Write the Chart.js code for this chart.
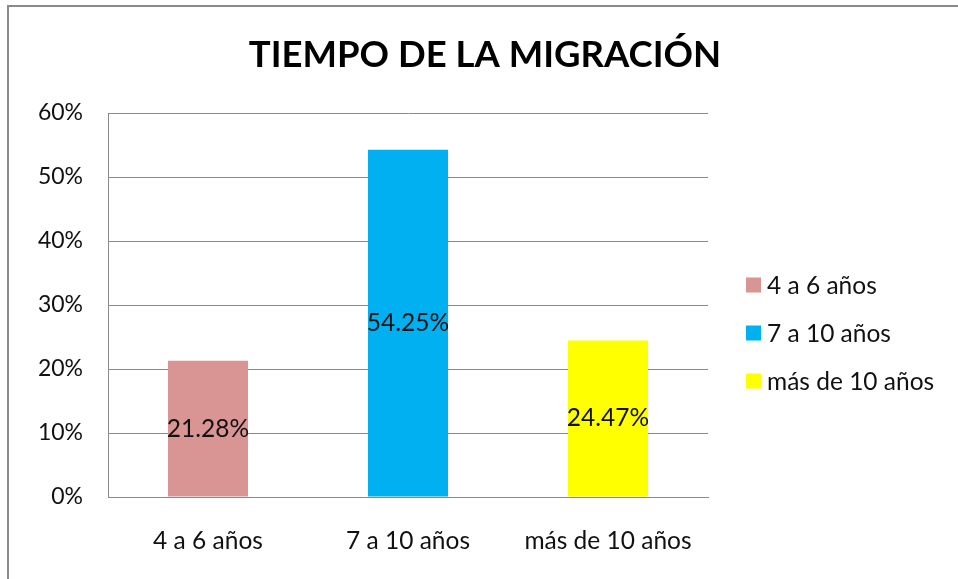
<!DOCTYPE html>
<html><head><meta charset="utf-8">
<script src="https://cdn.jsdelivr.net/npm/chart.js@4"></script>
<style>html,body{margin:0;padding:0;background:#fff;overflow:hidden}#wrap{width:958px;height:579px;position:relative}canvas{display:block}</style>
</head><body><div id="wrap"><canvas id="c" width="958" height="579" style="width:958px;height:579px"></canvas></div>
<script>
const chartTitle = 'TIEMPO DE LA MIGRACIÓN';
const categories = ['4 a 6 años', '7 a 10 años', 'más de 10 años'];
const values = [21.28, 54.25, 24.47];
const valueLabels = ['21.28%', '54.25%', '24.47%'];
const colors = ['#D99594', '#00B0F0', '#FFFF00'];
const yMax = 60;
const yStep = 10;

const FONT = 'Lato, "Open Sans", sans-serif';
const GRID = '#8a8a8a';

const deco = {
  id: 'deco',
  beforeDraw(chart) {
    const c = chart.ctx;
    c.save();
    c.fillStyle = '#fff';
    c.fillRect(0, 0, chart.width, chart.height);
    c.fillStyle = GRID;
    c.fillRect(7, 5, chart.width, 2);
    c.fillRect(7, 5, 2, chart.height);
    c.restore();
  },
  afterDatasetsDraw(chart) {
    const c = chart.ctx;
    const meta = chart.getDatasetMeta(0);
    c.save();
    c.font = '24.5px ' + FONT;
    c.fillStyle = '#111';
    c.textAlign = 'center';
    c.textBaseline = 'middle';
    meta.data.forEach((bar, i) => {
      c.fillText(valueLabels[i], bar.x, (bar.y + bar.base) / 2);
    });
    c.restore();
  },
  afterDraw(chart) {
    const c = chart.ctx;
    c.save();
    c.fillStyle = '#000';
    c.font = 'bold 36.5px ' + FONT;
    c.textAlign = 'center';
    c.textBaseline = 'middle';
    c.fillText(chartTitle, 485, 55);
    c.font = '24.5px ' + FONT;
    c.textAlign = 'left';
    categories.forEach((lab, i) => {
      const cy = 285 + i * 48;
      c.fillStyle = colors[i];
      c.fillRect(746, cy - 7.5, 15, 15);
      c.fillStyle = '#111';
      c.fillText(lab, 767, cy + 1);
    });
    c.restore();
  }
};

new Chart(document.getElementById('c'), {
  type: 'bar',
  data: {
    labels: categories,
    datasets: [{
      data: values,
      backgroundColor: colors,
      borderWidth: 0,
      barPercentage: 0.4,
      categoryPercentage: 1
    }]
  },
  options: {
    responsive: false,
    animation: false,
    devicePixelRatio: 1,
    layout: { padding: { top: 113, right: 250, bottom: 0, left: 0 } },
    plugins: { legend: { display: false }, title: { display: false }, tooltip: { enabled: false } },
    scales: {
      x: {
        grid: { display: false, drawTicks: false },
        border: { display: true, color: GRID, width: 1 },
        ticks: { color: '#111', font: { family: FONT, size: 24.5 }, padding: 29, maxRotation: 0 },
        afterFit(s) { s.height = 82; }
      },
      y: {
        min: 0, max: yMax,
        grid: { color: GRID, drawTicks: false, lineWidth: 1 },
        border: { display: true, color: GRID, width: 1 },
        ticks: { stepSize: yStep, color: '#111', font: { family: FONT, size: 23 }, padding: 25,
          callback: v => v + '%' },
        afterFit(s) { s.width = 108; }
      }
    }
  },
  plugins: [deco]
});
</script>
</body></html>
